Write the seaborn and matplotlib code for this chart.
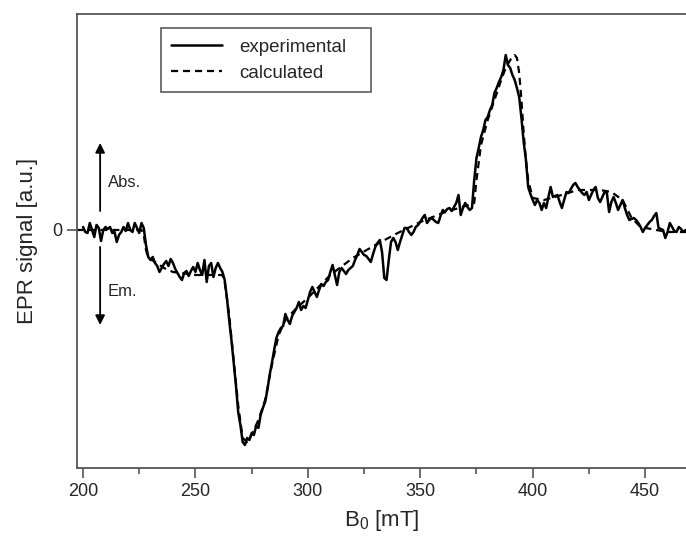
import numpy as np
import pandas as pd
import matplotlib
matplotlib.use('Agg')
import matplotlib.pyplot as plt
import seaborn as sns

# campo magnetico (mT), passo de 1 mT
campo_exp = np.arange(200, 469)

# sinal experimental (u.a.)
sinal_exp = [
    0.03, -0.02, -0.03, 0.07, 0.0, -0.07, 0.05, 0.02, -0.11, 0.0,
    0.03, 0.01, 0.03, -0.03, -0.02, -0.12, -0.05, -0.02, 0.03, -0.01,
    0.07, 0.0, -0.02, 0.07, 0.02, -0.03, 0.07, 0.02, -0.15, -0.27,
    -0.3, -0.27, -0.33, -0.36, -0.42, -0.38, -0.34, -0.31, -0.36, -0.29,
    -0.33, -0.39, -0.43, -0.47, -0.5, -0.43, -0.41, -0.46, -0.41, -0.37,
    -0.42, -0.33, -0.4, -0.45, -0.3, -0.52, -0.36, -0.33, -0.47, -0.38,
    -0.33, -0.38, -0.42, -0.5, -0.68, -0.9, -1.1, -1.32, -1.55, -1.82,
    -1.95, -2.12, -2.15, -2.08, -2.1, -2.03, -2.05, -1.96, -1.98, -1.85,
    -1.78, -1.72, -1.6, -1.45, -1.33, -1.2, -1.08, -1.02, -0.98, -0.96,
    -0.84, -0.9, -0.94, -0.86, -0.82, -0.78, -0.72, -0.8, -0.76, -0.78,
    -0.7, -0.62, -0.57, -0.62, -0.67, -0.6, -0.54, -0.56, -0.52, -0.5,
    -0.42, -0.35, -0.45, -0.55, -0.42, -0.38, -0.41, -0.44, -0.4, -0.38,
    -0.36, -0.3, -0.25, -0.19, -0.22, -0.25, -0.26, -0.29, -0.32, -0.24,
    -0.17, -0.13, -0.1, -0.22, -0.48, -0.5, -0.3, -0.12, -0.08, -0.12,
    -0.2, -0.12, -0.05, 0.02, 0.02, -0.02, -0.05, -0.02, 0.03, 0.05,
    0.08, 0.12, 0.15, 0.07, 0.1, 0.12, 0.1, 0.08, 0.07, 0.14,
    0.2, 0.18, 0.21, 0.22, 0.19, 0.23, 0.27, 0.35, 0.15, 0.22,
    0.27, 0.23, 0.2, 0.22, 0.5, 0.72, 0.82, 0.93, 1.0, 1.1,
    1.13, 1.2, 1.25, 1.37, 1.42, 1.48, 1.53, 1.6, 1.75, 1.65,
    1.62, 1.55, 1.5, 1.42, 1.33, 1.12, 0.88, 0.7, 0.43, 0.36,
    0.3, 0.25, 0.3, 0.27, 0.2, 0.27, 0.22, 0.33, 0.43, 0.33,
    0.34, 0.35, 0.28, 0.22, 0.3, 0.38, 0.37, 0.41, 0.45, 0.47,
    0.43, 0.4, 0.37, 0.35, 0.38, 0.3, 0.35, 0.4, 0.43, 0.32,
    0.28, 0.33, 0.38, 0.37, 0.18, 0.28, 0.33, 0.27, 0.2, 0.25,
    0.3, 0.22, 0.15, 0.1, 0.11, 0.12, 0.1, 0.07, 0.03, -0.02,
    0.02, 0.05, 0.08, 0.1, 0.14, 0.17, 0.02, 0.01, 0.0, -0.08,
    -0.02, 0.07, 0.03, -0.01, -0.02, 0.03, 0.01, -0.02, 0.0,
]

# curva calculada (simulacao)
campo_calc = [197, 226, 227, 228, 229, 232, 236, 240, 250, 262, 263, 265, 267, 269,
              271, 273, 275, 278, 281, 284, 287, 290, 295, 300, 310, 320, 330, 340,
              350, 360, 370, 374, 375, 377, 380, 383, 386, 388, 390, 392, 393, 394,
              395, 396, 397, 398, 400, 405, 410, 420, 430, 435, 440, 444, 448, 455,
              460, 470]
sinal_calc = [0.0, 0.0, -0.05, -0.2, -0.28, -0.32, -0.38, -0.42, -0.45, -0.45, -0.52,
              -0.85, -1.3, -1.75, -2.08, -2.12, -2.05, -1.9, -1.7, -1.35, -1.05, -0.9,
              -0.78, -0.68, -0.45, -0.28, -0.15, -0.03, 0.08, 0.17, 0.24, 0.27, 0.5,
              0.85, 1.1, 1.3, 1.5, 1.62, 1.7, 1.75, 1.72, 1.57, 1.3, 0.97, 0.7, 0.5,
              0.32, 0.3, 0.33, 0.4, 0.4, 0.38, 0.3, 0.12, 0.03, 0.0, -0.02, -0.02]

df_exp = pd.DataFrame({'B': campo_exp, 'sinal': sinal_exp})
df_calc = pd.DataFrame({'B': campo_calc, 'sinal': sinal_calc})

sns.set_style('ticks')
plt.rcParams['font.family'] = ['Liberation Sans', 'DejaVu Sans']
plt.rcParams['mathtext.fontset'] = 'custom'
plt.rcParams['mathtext.rm'] = 'Liberation Sans'

cinza = '#555555'
fig = plt.figure(figsize=(6.86, 5.36), dpi=100)
ax = fig.add_axes([0.1122, 0.1269, 0.8878, 0.847])

sns.lineplot(data=df_exp, x='B', y='sinal', ax=ax, color='black', lw=1.8,
             label='experimental', sort=False)
sns.lineplot(data=df_calc, x='B', y='sinal', ax=ax, color='black', lw=1.6,
             linestyle=(0, (3.2, 2.2)), label='calculated', sort=False)

ax.set_xlim(197.3, 468.2)
ax.set_ylim(-2.38, 2.16)
ax.set_xticks([200, 250, 300, 350, 400, 450])
ax.set_xticks([225, 275, 325, 375, 425], minor=True)
ax.set_yticks([0])
ax.tick_params(axis='both', which='major', labelsize=13, length=7, width=1.2,
               color=cinza, direction='out')
ax.tick_params(axis='x', which='minor', length=4, width=1.2, color=cinza)
ax.set_xlabel(r'B$_\mathregular{0}$ [mT]', fontsize=16, labelpad=6)
ax.set_ylabel('EPR signal [a.u.]', fontsize=16, labelpad=10)

for lado in ['left', 'bottom', 'top']:
    ax.spines[lado].set_color(cinza)
    ax.spines[lado].set_linewidth(1.3)
ax.spines['right'].set_visible(False)

# setas de absorcao / emissao
ax.annotate('', xy=(207.6, 0.87), xytext=(207.6, 0.19),
            arrowprops=dict(arrowstyle='-|>', color='black', lw=1.3,
                            mutation_scale=14, shrinkA=0, shrinkB=0))
ax.annotate('', xy=(207.6, -0.95), xytext=(207.6, -0.17),
            arrowprops=dict(arrowstyle='-|>', color='black', lw=1.3,
                            mutation_scale=14, shrinkA=0, shrinkB=0))
ax.text(211.1, 0.47, 'Abs.', fontsize=12, va='center', ha='left')
ax.text(211.1, -0.62, 'Em.', fontsize=12, va='center', ha='left')

leg = ax.legend(loc='upper left', bbox_to_anchor=(0.138, 0.969, 0.345, 0.0),
                mode='expand', borderaxespad=0,
                fontsize=13.5, frameon=True, fancybox=False, edgecolor='#333333',
                handlelength=2.7, handletextpad=0.9, labelspacing=0.5,
                borderpad=0.55)
leg.get_frame().set_linewidth(1.2)

plt.savefig('out.png', dpi=100)
plt.close()
